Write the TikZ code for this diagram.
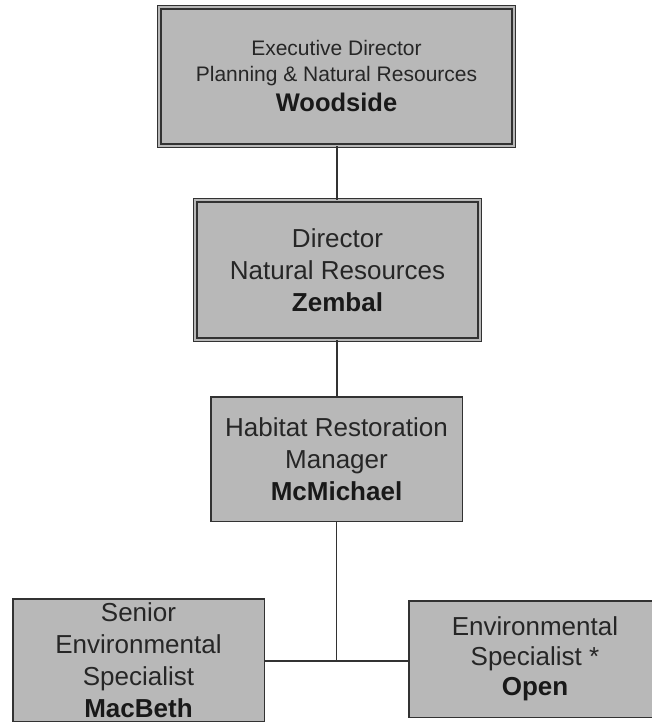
\documentclass[tikz,border=0pt]{standalone}
\usepackage{fontspec}
\setmainfont{Liberation Sans}
\definecolor{boxgray}{RGB}{184,184,184}
\definecolor{edgegray}{RGB}{50,50,50}
\definecolor{txtgray}{RGB}{38,38,38}
\tikzset{
  orgbox/.style={rectangle, draw=edgegray, fill=boxgray, line width=1.5pt,
    inner sep=0pt, align=center, text=txtgray,
    font=\fontsize{26}{32}\selectfont},
  dblbox/.style={orgbox, double=boxgray, double distance=2pt, line width=1.3pt},
  link/.style={draw=edgegray, line width=1.8pt},
  who/.style={font=\fontsize{26}{32}\selectfont\bfseries, text=black!90}
}
\newcommand{\nm}[1]{{\color{black!90}\bfseries #1}}
\begin{document}
\begin{tikzpicture}[x=1pt,y=1pt]
  \useasboundingbox (0,0) rectangle (652,-723);
  \clip (0,0) rectangle (652,-723);

  % executive level
  \node[dblbox, minimum width=354.4, minimum height=138.4,
        font=\fontsize{21}{26}\selectfont]
    (exec) at (336.5,-76.5)
    {Executive Director\\Planning \& Natural Resources\\[4pt]%
     {\fontsize{25.5}{26}\selectfont\nm{Woodside}}};

  % director
  \node[dblbox, minimum width=284.4, minimum height=139.4]
    (dir) at (337.5,-270)
    {Director\\Natural Resources\\\nm{Zembal}};

  % manager
  \node[orgbox, minimum width=251.5, minimum height=124.5]
    (mgr) at (336.5,-459)
    {Habitat Restoration\\Manager\\\nm{McMichael}};

  % specialists
  \node[orgbox, minimum width=251.5, minimum height=122.5]
    (senior) at (138.5,-660)
    {Senior\\Environmental\\Specialist\\\nm{MacBeth}};
  \node[orgbox, minimum width=252.5, minimum height=116.5,
        font=\fontsize{26}{30}\selectfont]
    (spec) at (535,-659)
    {Environmental\\Specialist *\\\nm{Open}};

  % reporting lines
  \coordinate (split) at (336.5,-661);
  \draw[link] (exec.south -| 337,0) -- (dir.north -| 337,0);
  \draw[link] (dir.south -| 337,0) -- (mgr.north -| 337,0);
  \draw[link] (mgr.south -| split) -- (split);
  \draw[link] (senior.east |- split) -- (spec.west |- split);
\end{tikzpicture}
\end{document}
